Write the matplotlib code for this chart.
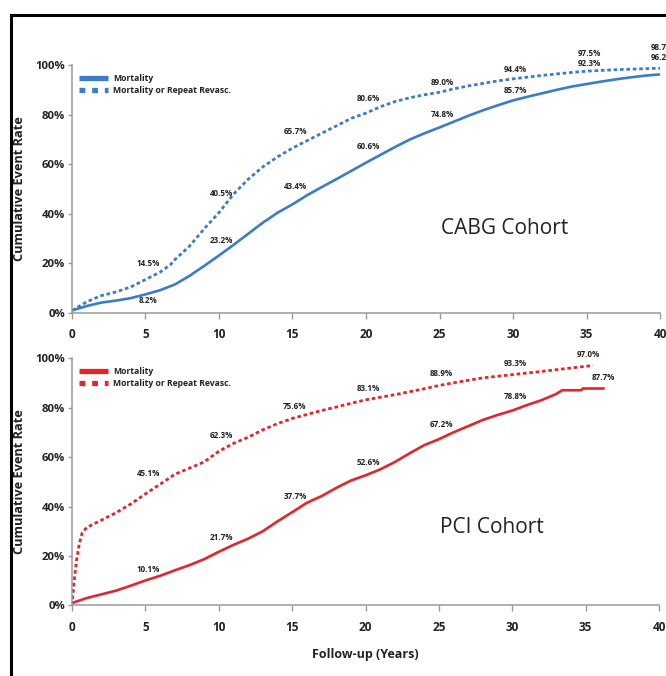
import matplotlib
matplotlib.use('Agg')
import matplotlib.pyplot as plt
from matplotlib.lines import Line2D

plt.rcParams['font.family'] = ['Open Sans', 'DejaVu Sans']

# CABG cohort
cabg_mort_t = [0, 1, 2, 3, 4, 5, 6, 7, 8, 9, 10, 11, 12, 13, 14, 15, 16, 17, 18, 19, 20,
               21, 22, 23, 24, 25, 26, 27, 28, 29, 30, 31, 32, 33, 34, 35, 36, 37, 38, 39, 40]
cabg_mort = [1, 2.8, 4.2, 5.0, 6.0, 7.5, 9.2, 11.5, 15, 19, 23.2, 27.5, 32, 36.5, 40.5, 43.8,
             47.5, 50.8, 54, 57.3, 60.6, 63.8, 67, 70, 72.5, 74.8, 77.2, 79.6, 81.8, 83.8, 85.7,
             87.2, 88.6, 90, 91.3, 92.3, 93.3, 94.2, 95, 95.7, 96.2]
cabg_rev_t = [0, 1, 2, 3, 4, 5, 6, 6.7, 7, 8, 9, 10, 11, 12, 13, 14, 15, 16, 17, 18, 19, 20,
              21, 22, 23, 24, 25, 26, 27, 28, 29, 30, 31, 32, 33, 34, 35, 36, 37, 38, 39, 40]
cabg_rev = [1, 4.5, 7, 8.5, 10.5, 13.5, 16.5, 19.5, 21.5, 27, 34, 40.5, 48, 54, 59, 63, 66.5,
            69.5, 72.5, 75.5, 78.5, 80.6, 83.2, 85.3, 86.8, 88, 89.0, 90.4, 91.6, 92.6, 93.6, 94.4,
            95.1, 95.8, 96.4, 97.0, 97.5, 97.8, 98.1, 98.3, 98.5, 98.7]
cabg_mort_lbl_t = [5, 10, 15, 20, 25, 30, 35, 40]
cabg_mort_lbl = [8.2, 23.2, 43.4, 60.6, 74.8, 85.7, 92.3, 96.2]
cabg_rev_lbl_t = [5, 10, 15, 20, 25, 30, 35, 40]
cabg_rev_lbl = [14.5, 40.5, 65.7, 80.6, 89.0, 94.4, 97.5, 98.7]

# PCI cohort
pci_mort_t = [0, 1, 2, 3, 4, 5, 6, 7, 8, 9, 10, 11, 12, 13, 14, 15, 16, 17, 18, 19, 20, 21, 22,
              23, 24, 25, 26, 27, 28, 29, 30, 31, 32, 33, 33.4, 34.7, 34.8, 36.3]
pci_mort = [1, 3, 4.5, 6, 8, 10.1, 12, 14.2, 16.3, 18.7, 21.7, 24.5, 27, 30, 34, 37.7, 41.5,
            44.2, 47.5, 50.5, 52.6, 55, 58, 61.5, 64.8, 67.2, 70, 72.5, 75, 77, 78.8, 81, 83,
            85.5, 87.0, 87.0, 87.7, 87.7]
pci_rev_t = [0, 0.15, 0.3, 0.5, 0.7, 1, 1.5, 2, 3, 4, 5, 6, 7, 8, 9, 10, 11, 12, 13, 14, 15,
             16, 17, 18, 19, 20, 22, 24, 25, 26, 28, 30, 32, 34, 35.5]
pci_rev = [0, 10, 18, 25, 29.5, 31.5, 33, 34.5, 37.5, 41, 45.1, 49, 53, 55.5, 58, 62.3, 65.5,
           68, 71, 73.5, 75.6, 77.2, 78.8, 80.2, 81.7, 83.1, 85.2, 87.6, 88.9, 90, 92, 93.3,
           94.6, 96, 97.0]
pci_mort_lbl_t = [5, 10, 15, 20, 25, 30, 36]
pci_mort_lbl = [10.1, 21.7, 37.7, 52.6, 67.2, 78.8, 87.7]
pci_rev_lbl_t = [5, 10, 15, 20, 25, 30, 35]
pci_rev_lbl = [45.1, 62.3, 75.6, 83.1, 88.9, 93.3, 97.0]

# label offsets (points above the curve)
cabg_mort_dy = [-6, 10.5, 13.5, 11.5, 9.5, 7, 15, 12]
cabg_rev_dy = [10, 14, 13, 10.5, 7, 7, 13, 15]
pci_mort_dy = [8, 10, 11, 9, 10.5, 10, 8]
pci_rev_dy = [15, 11.5, 8.5, 8, 8.5, 8, 8]

blue = '#3b7cc8'
red = '#e4262b'
grey = '#9a9a9a'
txt = '#222222'

fig = plt.figure(figsize=(6.66, 6.76), dpi=100)
ax1 = fig.add_axes([0.1081, 0.537, 0.8829, 0.3669])
ax2 = fig.add_axes([0.1081, 0.1043, 0.8814, 0.366])


def panel(ax, color, mt, mv, rt, rv, mlt, mlv, rlt, rlv, mdy, rdy, name, name_xy):
    ax.plot(mt, mv, color=color, lw=1.9, solid_capstyle='butt')
    ax.plot(rt, rv, color=color, lw=2.0, dashes=(1.3, 1.0))
    for x, v, dy in zip(mlt, mlv, mdy):
        ax.annotate(f'{v:.1f}%', (x, v), xytext=(2, dy), textcoords='offset points',
                    ha='center', va='center', fontsize=5.8, fontweight='bold', color=txt,
                    annotation_clip=False)
    for x, v, dy in zip(rlt, rlv, rdy):
        ax.annotate(f'{v:.1f}%', (x, v), xytext=(2, dy), textcoords='offset points',
                    ha='center', va='center', fontsize=5.8, fontweight='bold', color=txt,
                    annotation_clip=False)
    ax.set_xlim(0, 40)
    ax.set_ylim(0, 100)
    ax.set_xticks(range(0, 41, 5))
    ax.set_yticks(range(0, 101, 20))
    ax.set_yticklabels([f'{v}%' for v in range(0, 101, 20)])
    for s in ['top', 'right']:
        ax.spines[s].set_visible(False)
    for s in ['left', 'bottom']:
        ax.spines[s].set_color(grey)
        ax.spines[s].set_linewidth(1.1)
    ax.tick_params(axis='x', length=4, width=1, color=grey, pad=7, labelsize=8.5, labelcolor=txt)
    ax.tick_params(axis='y', length=3, width=1, color=grey, pad=2, labelsize=8.2, labelcolor=txt)
    for lab in ax.get_xticklabels() + ax.get_yticklabels():
        lab.set_fontweight('bold')
    ax.set_ylabel('Cumulative Event Rate', fontsize=9.2, fontweight='bold', color=txt, labelpad=4)
    ax.yaxis.set_label_coords(-0.078, 0.5)
    ax.text(name_xy[0], name_xy[1], name, ha='center', va='center', fontsize=15, color=txt)
    handles = [Line2D([], [], color=color, lw=3.8, solid_capstyle='butt'),
               Line2D([], [], color=color, lw=3.8, dashes=(1.1, 1.3))]
    leg = ax.legend(handles, ['Mortality', 'Mortality or Repeat Revasc.'], loc='upper left',
                    bbox_to_anchor=(0.0, 0.99), frameon=False, handlelength=3.4,
                    handletextpad=0.6, labelspacing=0.35, borderaxespad=0.4,
                    prop={'size': 6.2, 'weight': 'bold'})
    for t in leg.get_texts():
        t.set_color(txt)


panel(ax1, blue, cabg_mort_t, cabg_mort, cabg_rev_t, cabg_rev, cabg_mort_lbl_t, cabg_mort_lbl,
      cabg_rev_lbl_t, cabg_rev_lbl, cabg_mort_dy, cabg_rev_dy, 'CABG Cohort', (29.4, 34))
panel(ax2, red, pci_mort_t, pci_mort, pci_rev_t, pci_rev, pci_mort_lbl_t, pci_mort_lbl,
      pci_rev_lbl_t, pci_rev_lbl, pci_mort_dy, pci_rev_dy, 'PCI Cohort', (28.6, 31.5))
ax2.set_xlabel('Follow-up (Years)', fontsize=9, fontweight='bold', color=txt, labelpad=10)

# frame edges of the original figure
fig.add_artist(Line2D([0.0158, 1.0], [0.978, 0.978], color='black', lw=2.2, transform=fig.transFigure))
fig.add_artist(Line2D([0.0158, 0.0158], [0.0, 0.978], color='black', lw=2.2, transform=fig.transFigure))

fig.savefig('out.png', dpi=100)
